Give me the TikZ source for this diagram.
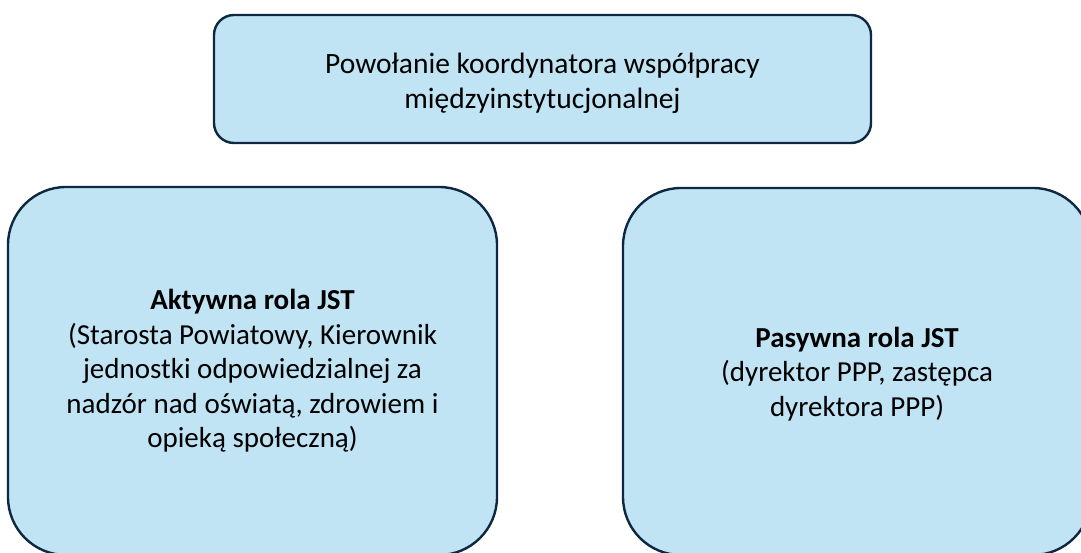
\documentclass[tikz,border=0pt]{standalone}
\usepackage{fontspec}
\setmainfont{Carlito}
\definecolor{boxfill}{HTML}{C1E4F5}
\definecolor{boxline}{HTML}{0E2841}
\begin{document}
\begin{tikzpicture}[x=1pt,y=1pt,
  card/.style={draw=boxline, fill=boxfill, line width=2.4pt, inner sep=0pt},
  label/.style={align=center, inner sep=0pt, font=\fontsize{29}{34.5}\selectfont},
]
\useasboundingbox (0,0) rectangle (1081,-553);
% boxes
\node[card, rounded corners=20pt, minimum width=657pt, minimum height=128pt]
  (coord) at (542.5,-79) {};
\node[card, rounded corners=58pt, minimum width=489pt, minimum height=368pt]
  (active) at (252.5,-371) {};
\node[card, rounded corners=58pt, minimum width=468pt, minimum height=367pt]
  (passive) at (857,-371.5) {};
% texts
\node[label, font=\fontsize{29.5}{35}\selectfont]
  (coordtext) at (542.5,-83) {Powołanie koordynatora współpracy\\międzyinstytucjonalnej};
\node[label] (activetext) at (252.5,-371)
  {\textbf{Aktywna rola JST}\\(Starosta Powiatowy, Kierownik\\jednostki odpowiedzialnej za\\nadzór nad oświatą, zdrowiem i\\opieką społeczną)};
\node[label] (passivetext) at (857,-374)
  {\textbf{Pasywna rola JST}\\(dyrektor PPP, zastępca\\dyrektora PPP)};
\end{tikzpicture}
\end{document}
